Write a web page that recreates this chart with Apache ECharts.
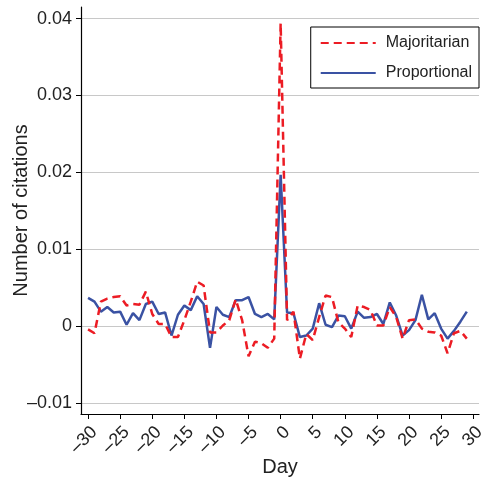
<!DOCTYPE html>
<html lang="en">
<head>
    <meta charset="UTF-8">
    <title>Citations by day</title>
    <script type="text/javascript" src="https://cdn.jsdelivr.net/npm/echarts@6/dist/echarts.min.js"></script>
    <style>
        body { margin: 0; background: #fff; }
    </style>
</head>
<body>
    <div id="main" style="width:482px;height:483px;"></div>
</body>
<script type="text/javascript">
    // days -30 .. 29
    var days = [];
    for (var d = -30; d <= 29; d++) days.push(d);

    var majoritarian = [
        -0.0004, -0.0009, 0.0032, 0.0036, 0.0038, 0.0039, 0.0027, 0.0029, 0.0028, 0.0045,
        0.0016, 0.0003, 0.0003, -0.0014, -0.0014, 0.0008, 0.0032, 0.0058, 0.0053, -0.0008,
        -0.0008, 0.0001, 0.0008, 0.0035, 0.0008, -0.0039, -0.0020, -0.0022, -0.0028, -0.0016,
        0.0394, 0.0008, 0.0019, -0.0042, -0.0010, -0.0018, 0.0012, 0.0040, 0.0038, 0.0005,
        -0.0003, -0.0014, 0.0027, 0.0025, 0.0021, 0.0001, 0.0001, 0.0025, 0.0012, -0.0016,
        0.0008, 0.0009, -0.0003, -0.0007, -0.0008, -0.0012, -0.0035, -0.0009, -0.0006, -0.0016
    ];

    var proportional = [
        0.0037, 0.0032, 0.0019, 0.0025, 0.0018, 0.0019, 0.0002, 0.0017, 0.0008, 0.0029,
        0.0032, 0.0016, 0.0018, -0.0012, 0.0015, 0.0027, 0.0021, 0.0039, 0.0029, -0.0028,
        0.0025, 0.0015, 0.0012, 0.0034, 0.0034, 0.0038, 0.0016, 0.0012, 0.0016, 0.0009,
        0.0197, 0.0018, 0.0017, -0.0014, -0.0012, -0.0003, 0.0030, 0.0002, -0.0001, 0.0014,
        0.0013, -0.0003, 0.0019, 0.0011, 0.0012, 0.0016, 0.0003, 0.0031, 0.0014, -0.0012,
        -0.0005, 0.0008, 0.0041, 0.0009, 0.0017, -0.0003, -0.0016, -0.0006, 0.0006, 0.0019
    ];

    var xTicks = [-30, -25, -20, -15, -10, -5, 0, 5, 10, 15, 20, 25, 30];
    var yTicks = [-0.01, 0, 0.01, 0.02, 0.03, 0.04];

    function pairs(vals) {
        return days.map(function (d, i) { return [d, vals[i]]; });
    }

    var font = '"Liberation Sans", Arial, sans-serif';
    var chart = echarts.init(document.getElementById('main'));

    chart.setOption({
        animation: false,
        grid: { left: 81, right: 3, top: 7, bottom: 69, outerBoundsMode: 'none', containLabel: false },
        legend: {
            right: 3, top: 27,
            orient: 'vertical',
            itemWidth: 55, itemHeight: 16, itemGap: 14,
            padding: [8, 7, 7, 9],
            borderColor: '#000', borderWidth: 1,
            backgroundColor: '#fff',
            itemStyle: { opacity: 0 },
            textStyle: { fontFamily: font, fontSize: 16, color: '#222', padding: [0, 0, 0, 5] },
            data: ['Majoritarian', 'Proportional']
        },
        xAxis: {
            type: 'value',
            min: -31.1, max: 30.9,
            name: 'Day',
            nameLocation: 'middle',
            nameGap: 43,
            nameMoveOverlap: false,
            nameTextStyle: { fontFamily: font, fontSize: 20, color: '#222' },
            axisLine: { onZero: false, lineStyle: { color: '#000', width: 1.2 } },
            axisTick: { customValues: xTicks, length: 5, lineStyle: { color: '#000' } },
            axisLabel: {
                customValues: xTicks,
                rotate: 45,
                margin: 9,
                verticalAlign: 'top',
                lineHeight: 18,
                fontFamily: font, fontSize: 18, color: '#222',
                formatter: function (v) { return v < 0 ? '\u2013' + (-v) : String(v); }
            },
            splitLine: { show: false }
        },
        yAxis: {
            type: 'value',
            min: -0.0114, max: 0.0415,
            name: 'Number of citations',
            nameLocation: 'middle',
            nameGap: 50,
            nameMoveOverlap: false,
            nameTextStyle: { fontFamily: font, fontSize: 20, color: '#222' },
            axisLine: { show: true, onZero: false, lineStyle: { color: '#000', width: 1.2 } },
            axisTick: { show: true, customValues: yTicks, length: 5, lineStyle: { color: '#000' } },
            axisLabel: {
                customValues: yTicks,
                margin: 9,
                fontFamily: font, fontSize: 18, color: '#222',
                formatter: function (v) {
                    if (Math.abs(v) < 1e-9) return '0';
                    return v < 0 ? '\u2013' + (-v).toFixed(2) : v.toFixed(2);
                }
            },
            splitLine: { show: true, lineStyle: { color: '#c8c8c8', width: 1 } }
        },
        series: [
            {
                name: 'Majoritarian',
                type: 'line',
                symbol: 'none',
                data: pairs(majoritarian),
                color: '#ec1c24',
                lineStyle: { color: '#ec1c24', width: 2.5, type: [8, 5] },
                z: 3
            },
            {
                name: 'Proportional',
                type: 'line',
                symbol: 'none',
                data: pairs(proportional),
                color: '#3a52a3',
                lineStyle: { color: '#3a52a3', width: 2.5 },
                z: 2
            }
        ]
    });
</script>
</html>
